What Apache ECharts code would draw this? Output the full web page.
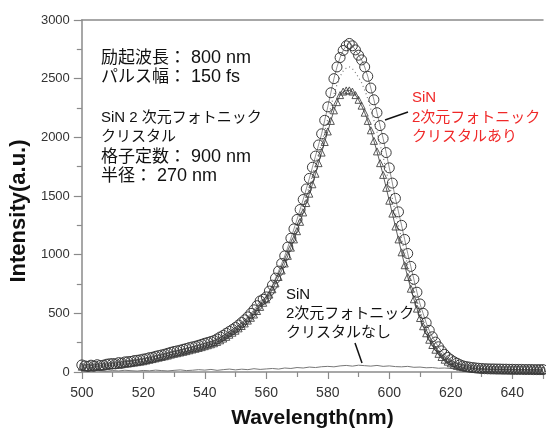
<!DOCTYPE html>
<html><head><meta charset="utf-8">
<script src="https://cdn.jsdelivr.net/npm/echarts@6/dist/echarts.min.js"></script>
<style>html,body{margin:0;padding:0;background:#fff}#c{width:546px;height:434px}</style>
</head><body><div id="c"></div>
<script>
// Wavelength grid (nm) for the dense series, 500..650 step 1
const wavelengths = [];
for (let w = 500; w <= 650; w++) wavelengths.push(w);
// Wavelength grid for the reference (no crystal) trace, 500..650 step 2
const wavelengthsRef = [];
for (let w = 500; w <= 650; w += 2) wavelengthsRef.push(w);

// SiN 2D photonic crystal: circles
const withCrystalCircles = [
  60,52,48,58,50,62,55,58,66,70,
  72,70,80,76,86,88,90,97,100,104,
  110,114,122,126,134,140,146,152,160,168,
  175,180,186,194,200,208,214,220,228,236,
  245,252,260,268,282,298,312,330,346,362,
  380,400,422,445,470,500,530,565,605,620,
  640,690,740,800,860,925,990,1065,1140,1220,
  1300,1385,1470,1560,1650,1745,1840,1935,2030,2145,
  2260,2380,2500,2600,2680,2740,2780,2800,2780,2745,
  2700,2660,2600,2520,2420,2320,2210,2100,1990,1870,
  1740,1610,1480,1365,1250,1130,1010,900,790,680,
  580,500,420,355,300,255,215,180,150,125,
  105,88,75,62,52,46,42,38,35,32,
  30,28,27,26,26,25,25,24,24,23,
  23,22,22,22,21,21,21,20,20,20,20
];
// SiN 2D photonic crystal: triangles
const withCrystalTriangles = [
  45,40,42,38,44,46,50,48,52,55,
  58,60,62,66,70,72,76,80,84,88,
  92,98,104,110,116,122,128,134,140,148,
  155,160,166,172,178,185,192,198,205,212,
  220,228,236,245,256,270,285,300,318,335,
  352,372,392,414,438,462,490,520,555,590,
  620,660,705,755,810,865,925,990,1060,1130,
  1200,1280,1360,1440,1520,1600,1690,1780,1870,1960,
  2050,2140,2230,2300,2360,2390,2400,2400,2390,2360,
  2320,2270,2210,2140,2060,1970,1880,1780,1680,1570,
  1460,1350,1240,1130,1020,910,810,710,620,540,
  460,390,330,275,230,190,155,128,105,88,
  74,62,52,45,40,36,33,30,28,26,
  25,24,23,22,22,21,21,20,20,20,
  19,19,19,18,18,18,18,17,17,17,17
];
// SiN 2D photonic crystal: dotted trace
const withCrystalDotted = [
  52,46,45,48,47,54,52,53,59,62,
  65,65,71,71,78,80,83,88,92,96,
  101,106,113,118,125,131,137,143,150,158,
  165,170,176,183,189,196,203,209,216,224,
  232,240,248,256,269,284,298,315,332,348,
  366,386,407,430,454,481,510,542,580,605,
  630,675,722,777,835,895,957,1027,1100,1175,
  1250,1332,1415,1500,1585,1672,1765,1857,1950,2052,
  2155,2260,2365,2450,2520,2565,2590,2600,2585,2552,
  2510,2465,2405,2330,2240,2145,2045,1940,1835,1720,
  1600,1480,1360,1248,1135,1020,910,805,705,610,
  520,445,375,315,265,222,185,154,128,106,
  90,75,64,54,46,41,38,34,32,29,
  28,26,25,24,24,23,23,22,22,22,
  21,21,21,20,20,20,20,19,19,19,19
];
// SiN without photonic crystal
const withoutCrystal = [
  12,8,14,10,6,12,9,15,11,8,
  13,10,16,12,9,14,18,12,15,20,
  16,22,14,20,25,18,24,20,28,22,
  26,30,25,34,30,38,34,42,38,45,
  48,44,52,56,50,58,54,50,56,48,
  52,46,44,48,40,42,36,38,32,34,
  30,26,28,24,26,22,24,20,22,18,
  20,17,19,16,18,15
];

const xTicks = [500,520,540,560,580,600,620,640];
const yTicks = [0,500,1000,1500,2000,2500,3000];

// [CJK part, Latin part]
const infoLines = [
  ['励起波長：', ' 800 nm'],
  ['パルス幅：', ' 150 fs'],
  ['', 'SiN 2 次元フォトニック'],
  ['', 'クリスタル'],
  ['格子定数：', ' 900 nm'],
  ['半径：', ' 270 nm']
];
const withLabel = ['SiN','2次元フォトニック','クリスタルあり'];
const withoutLabel = ['SiN','2次元フォトニック','クリスタルなし'];

const pair = (xs, ys) => xs.map((x, i) => [x, ys[i]]);
const FONT = '"Liberation Sans", "Noto Sans CJK JP", sans-serif';

const chart = echarts.init(document.getElementById('c'), null, {renderer: 'canvas'});

function textEl(str, x, y, color, size) {
  return {type: 'text', x: x, y: y, z: 100,
    style: {text: str, fill: color, font: (size || 15) + 'px ' + FONT, verticalAlign: 'middle'}};
}
const graphics = [];
const infoY = [58, 77, 118, 137, 157, 176];
infoLines.forEach((parts, i) => {
  if (parts[0]) {
    graphics.push({type: 'text', x: 101, y: infoY[i], z: 100,
      style: {text: '{c|' + parts[0] + '}{l|' + parts[1] + '}', fill: '#111', verticalAlign: 'middle',
        rich: {c: {fontFamily: FONT, fontSize: 17, fill: '#111'},
               l: {fontFamily: FONT, fontSize: 18, fill: '#111'}}}});
  } else {
    graphics.push(textEl(parts[1], 101, infoY[i], '#111', 15));
  }
});
[98, 118, 137].forEach((y, i) => graphics.push(textEl(withLabel[i], 412, y, '#f02828', 15)));
[295, 314, 333].forEach((y, i) => graphics.push(textEl(withoutLabel[i], 286, y, '#111', 15)));
graphics.push({type: 'line', z: 100, shape: {x1: 408, y1: 112, x2: 385, y2: 120}, style: {stroke: '#111', lineWidth: 1.5}});
graphics.push({type: 'line', z: 100, shape: {x1: 355, y1: 343, x2: 362, y2: 363}, style: {stroke: '#111', lineWidth: 1.5}});

const axisGray = '#8a8a8a';
chart.setOption({
  animation: false,
  backgroundColor: '#fff',
  grid: {left: 81, top: 20, width: 471, height: 352, containLabel: false},
  xAxis: [{
    type: 'value', min: 500, max: 650, interval: 20, position: 'bottom',
    name: 'Wavelength(nm)', nameLocation: 'middle', nameGap: 36,
    nameTextStyle: {fontFamily: FONT, fontSize: 21, fontWeight: 'bold', color: '#111'},
    axisLine: {show: true, onZero: false, lineStyle: {color: axisGray, width: 1.5}},
    axisTick: {show: true, inside: false, length: 7, lineStyle: {color: axisGray, width: 1.2}},
    minorTick: {show: true, splitNumber: 2, length: 5, lineStyle: {color: axisGray, width: 1.2}},
    axisLabel: {fontFamily: FONT, fontSize: 14, color: '#333', margin: 14,
      formatter: v => xTicks.includes(v) ? String(v) : ''},
    splitLine: {show: false}
  }, {
    type: 'value', min: 500, max: 650, position: 'top',
    axisLine: {show: true, onZero: false, lineStyle: {color: axisGray, width: 1.5}},
    axisTick: {show: false}, axisLabel: {show: false}, splitLine: {show: false}
  }],
  yAxis: {
    type: 'value', min: 0, max: 3000, interval: 500,
    name: 'Intensity(a.u.)', nameLocation: 'middle', nameGap: 49,
    nameTextStyle: {fontFamily: FONT, fontSize: 22, fontWeight: 'bold', color: '#111', padding: [0, 30, 0, 0]},
    axisLine: {show: true, lineStyle: {color: axisGray, width: 1.5}},
    axisTick: {show: true, inside: false, length: 8, lineStyle: {color: axisGray, width: 1.2}},
    minorTick: {show: true, splitNumber: 2, length: 5, lineStyle: {color: axisGray, width: 1.2}},
    axisLabel: {fontFamily: FONT, fontSize: 13, color: '#333', margin: 12,
      formatter: v => yTicks.includes(v) ? String(v) : ''},
    splitLine: {show: false}
  },
  series: [
    {type: 'line', name: 'ref', data: pair(wavelengthsRef, withoutCrystal), symbol: 'none',
      lineStyle: {color: '#777', width: 1}, z: 2},
    {type: 'line', name: 'triangles', data: pair(wavelengths, withCrystalTriangles),
      symbol: 'triangle', symbolSize: 7, showAllSymbol: true,
      itemStyle: {color: 'rgba(255,255,255,0)', borderColor: '#444', borderWidth: 0.9},
      lineStyle: {color: '#333', width: 0.8}, z: 3},
    {type: 'line', name: 'dotted', data: pair(wavelengths, withCrystalDotted), symbol: 'none',
      lineStyle: {color: '#777', width: 1.2, type: [1, 3]}, z: 4},
    {type: 'line', name: 'circles', data: pair(wavelengths, withCrystalCircles),
      symbol: 'circle', symbolSize: 10, showAllSymbol: true,
      itemStyle: {color: 'rgba(255,255,255,0)', borderColor: '#3a3a3a', borderWidth: 1},
      lineStyle: {color: '#444', width: 0.6}, z: 5}
  ],
  graphic: graphics
});
</script></body></html>
